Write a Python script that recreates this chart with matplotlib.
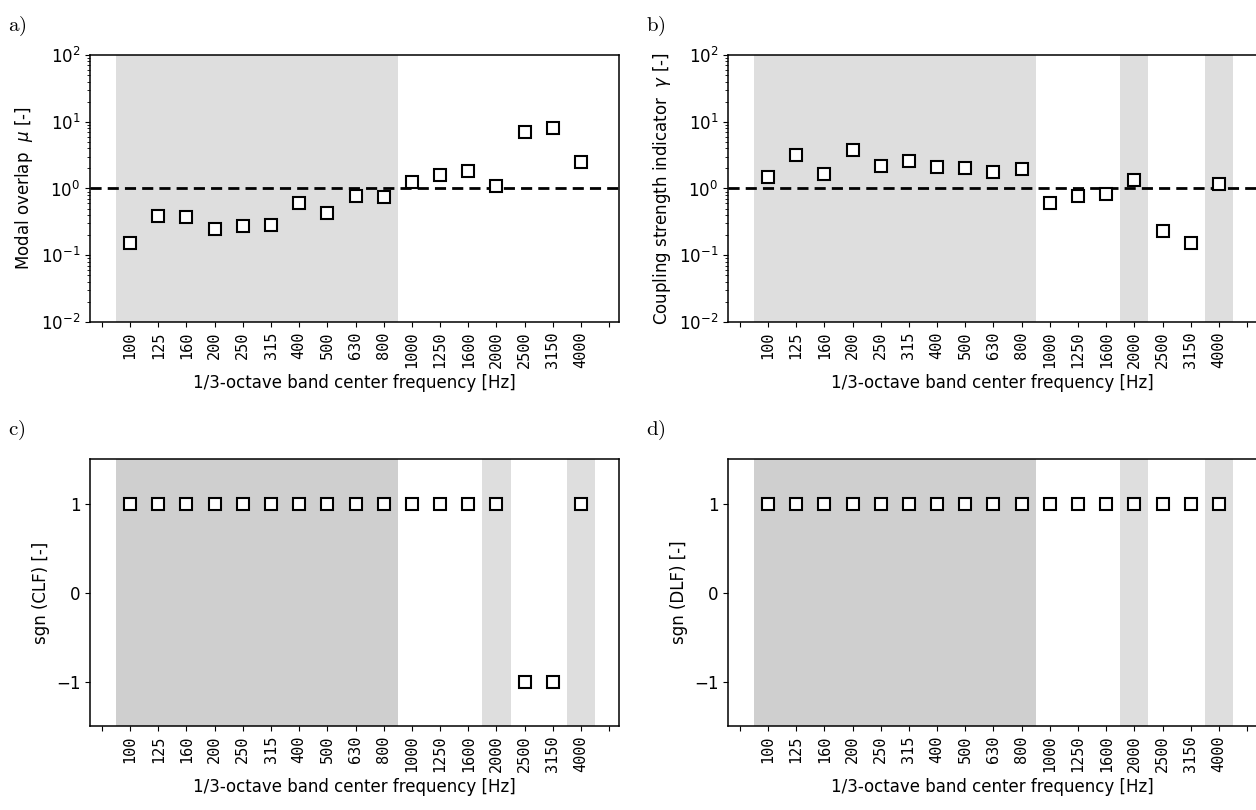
import matplotlib.pyplot as plt
import numpy as np

plt.rcParams['mathtext.fontset'] = 'dejavusans'

# 1/3-octave band centre frequencies [Hz]
bands = ['100', '125', '160', '200', '250', '315', '400', '500', '630', '800',
         '1000', '1250', '1600', '2000', '2500', '3150', '4000']

# modal overlap mu
mu = [0.15, 0.385, 0.376, 0.248, 0.272, 0.28, 0.61, 0.43, 0.77, 0.75,
      1.23, 1.58, 1.82, 1.08, 7.0, 8.0, 2.48]

# coupling strength indicator gamma
gamma = [1.49, 3.23, 1.64, 3.71, 2.18, 2.57, 2.11, 2.06, 1.77, 1.95,
         0.61, 0.77, 0.82, 1.32, 0.23, 0.15, 1.16]

# sign of coupling loss factor / damping loss factor
sgn_clf = [1, 1, 1, 1, 1, 1, 1, 1, 1, 1, 1, 1, 1, 1, -1, -1, 1]
sgn_dlf = [1, 1, 1, 1, 1, 1, 1, 1, 1, 1, 1, 1, 1, 1, 1, 1, 1]

# shaded band ranges (in band index units)
span_mu = [(0.5, 10.5)]
span_gamma = [(0.5, 10.5), (13.5, 14.5), (16.5, 17.5)]

LIGHT = '#dedede'
DARK = '#cfcfcf'

x = np.arange(1, len(bands) + 1)
xticks = np.arange(0, len(bands) + 2)
xticklabels = [''] + bands + ['']


def setup_xaxis(ax):
    ax.set_xticks(xticks)
    ax.set_xticklabels(xticklabels, rotation=90, fontsize=11,
                       family='DejaVu Sans Mono')
    ax.set_xlim(-0.42, 18.35)
    ax.set_xlabel('1/3-octave band center frequency [Hz]', fontsize=12)
    for s in ax.spines.values():
        s.set_linewidth(1.1)


def squares(ax, y):
    ax.plot(x, y, 's', ms=9, mfc='white', mec='black', mew=1.5, ls='none', zorder=3)


fig = plt.figure(figsize=(12.56, 8.10), dpi=100)
W, H = 0.4212, 0.3296
ax_a = fig.add_axes([0.0717, 0.6025, W, H])
ax_b = fig.add_axes([0.5796, 0.6025, W, H])
ax_c = fig.add_axes([0.0717, 0.1037, W, H])
ax_d = fig.add_axes([0.5796, 0.1037, W, H])

# a) modal overlap
for lo, hi in span_mu:
    ax_a.axvspan(lo, hi, color=LIGHT, lw=0, zorder=0)
ax_a.axhline(1, color='black', ls='--', lw=2, dashes=(4, 2.2), zorder=2)
squares(ax_a, mu)
ax_a.set_yscale('log')
ax_a.set_ylim(1e-2, 1e2)
ax_a.set_ylabel(r'Modal overlap  $\mu$ [-]', fontsize=12)

# b) coupling strength indicator
for lo, hi in span_gamma:
    ax_b.axvspan(lo, hi, color=LIGHT, lw=0, zorder=0)
ax_b.axhline(1, color='black', ls='--', lw=2, dashes=(4, 2.2), zorder=2)
squares(ax_b, gamma)
ax_b.set_yscale('log')
ax_b.set_ylim(1e-2, 1e2)
ax_b.set_ylabel(r'Coupling strength indicator  $\gamma$ [-]', fontsize=12)

# c), d) signs of the loss factors
for ax, vals, lab in [(ax_c, sgn_clf, 'sgn (CLF) [-]'), (ax_d, sgn_dlf, 'sgn (DLF) [-]')]:
    ax.axvspan(0.5, 10.5, color=DARK, lw=0, zorder=0)
    for lo, hi in span_gamma[1:]:
        ax.axvspan(lo, hi, color=LIGHT, lw=0, zorder=0)
    squares(ax, vals)
    ax.set_ylim(-1.5, 1.5)
    ax.set_yticks([-1, 0, 1])
    ax.set_ylabel(lab, fontsize=12)

for ax in (ax_a, ax_b, ax_c, ax_d):
    setup_xaxis(ax)
    ax.tick_params(axis='y', labelsize=12)

# panel letters in computer-modern roman
for ax, letter in [(ax_a, 'a)'), (ax_b, 'b)'), (ax_c, 'c)'), (ax_d, 'd)')]:
    pos = ax.get_position()
    fig.text(pos.x0 - 0.065, pos.y1 + 0.05, r'$\mathrm{' + letter + '}$',
             math_fontfamily='cm', fontsize=15, va='top', ha='left')

fig.savefig('out.png', dpi=100)
